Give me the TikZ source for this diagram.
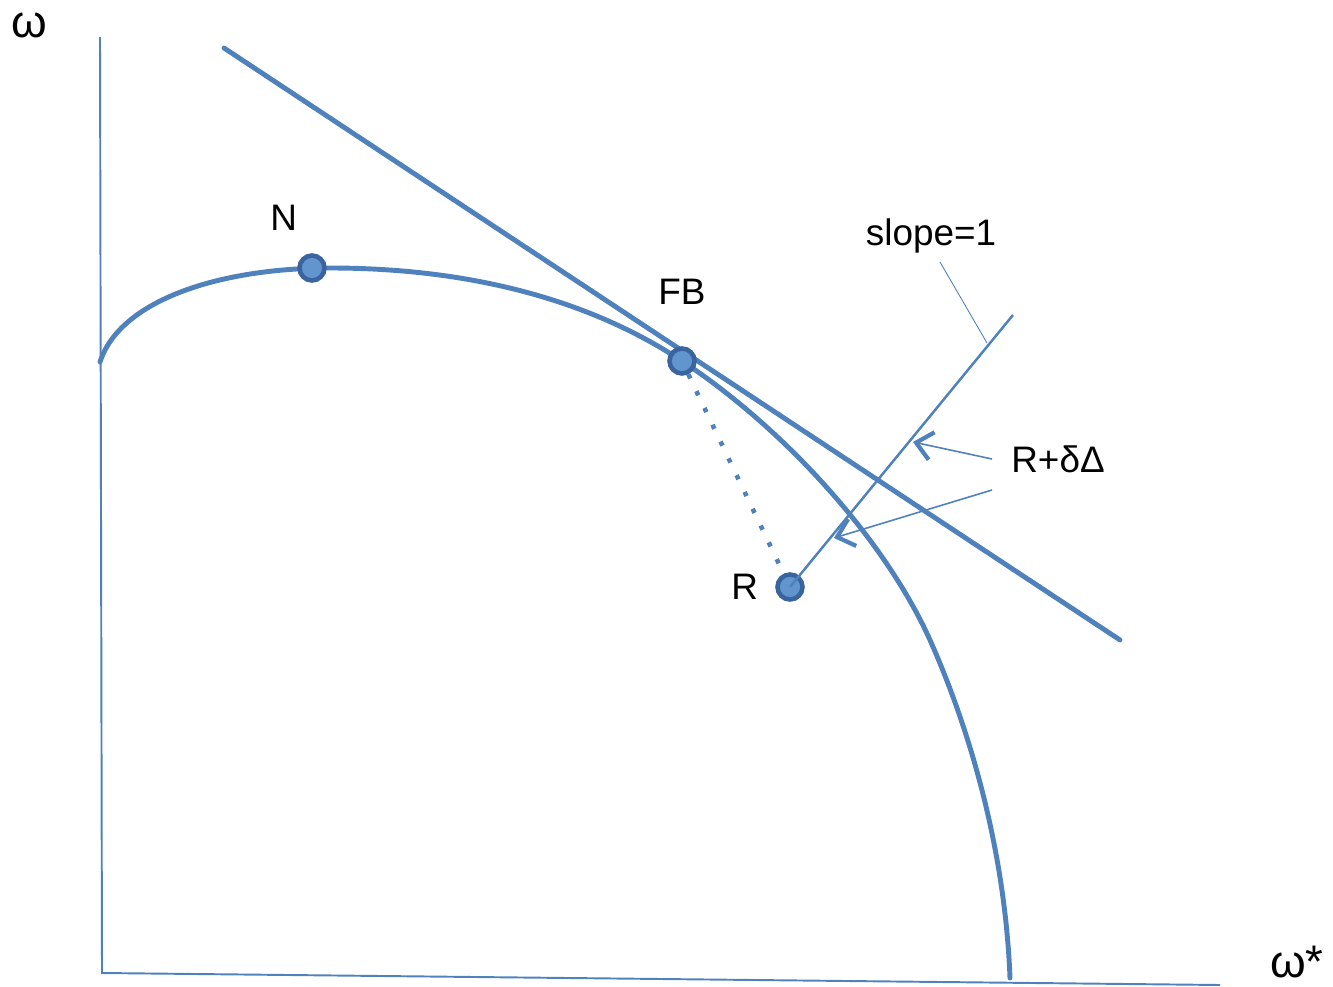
\documentclass[tikz,border=0pt]{standalone}
\usepackage{fontspec}
\setmainfont{Liberation Sans}
\usetikzlibrary{arrows.meta,positioning}
\definecolor{lnblue}{RGB}{79,129,189}
\definecolor{dotfill}{RGB}{98,148,206}
\definecolor{dotedge}{RGB}{58,100,158}

\begin{document}
\begin{tikzpicture}[
  x=0.02cm, y=-0.02cm,
  node distance=0.3cm,
  axis/.style={draw=lnblue, line width=1.1pt},
  frontier/.style={draw=lnblue, line width=2.8pt, line cap=round},
  thin/.style={draw=lnblue, line width=1.4pt},
  leader/.style={draw=lnblue, line width=0.5pt},
  pt/.style={circle, fill=dotfill, draw=dotedge, line width=2.6pt, minimum size=0.5cm, inner sep=0pt},
  lbl/.style={font=\fontsize{21}{25}\selectfont, inner sep=1pt},
  biglbl/.style={font=\fontsize{26}{28}\selectfont, inner sep=0pt},
  arr/.style={draw=lnblue, line width=0.9pt, -{Straight Barb[length=9pt, width=16pt, line width=2.4pt]}}
]
\useasboundingbox (0,0) rectangle (1333,987);

% axes
\coordinate (o) at (102,973);
\coordinate (ytop) at (100,37);
\coordinate (xend) at (1220,985);
\draw[axis] (ytop) -- (o) -- (xend);
\node[biglbl] (wlab) at (29,25) {ω};
\node[biglbl] (wslab) at (1297,962) {ω*};

% tangent line
\coordinate (t1) at (224,48);
\coordinate (t2) at (1120,640);
\draw[frontier] (t1) -- (t2);

% frontier
\draw[frontier] (100,362) .. controls (120,300) and (220,268) .. (330,268)
  .. controls (470,268) and (590,300) .. (682,361)
  .. controls (785,429) and (885,540) .. (930,640)
  .. controls (970,730) and (1005,850) .. (1010,978);

% points
\node[pt] (N) at (312,268) {};
\node[pt] (FB) at (682,361) {};
\node[pt] (R) at (790,587) {};
\node[lbl, above left=0.5cm and 0.05cm of N] {N};
\node[lbl, above=0.8cm of FB] {FB};
\node[lbl, left=0.3cm of R] {R};

% dotted path FB to R
\draw[draw=lnblue, line width=2.6pt, dash pattern=on 2.6pt off 8pt] (FB) -- (R);

% slope=1 line
\coordinate (s1) at (1013,315);
\draw[thin] (R.center) -- (s1);
\node[lbl] (slope) at (931,236) {slope=1};
\coordinate (sl) at (987,343);
\draw[leader] (940,262) -- (sl);

% R + delta Delta
\node[lbl] (rdd) at (1058,459) {R+δΔ};
\coordinate (a1) at (992,459);
\coordinate (a2) at (992,490);
\coordinate (h1) at (913,442);
\coordinate (h2) at (834,538);
\draw[arr] (a1) -- (h1);
\draw[arr] (a2) -- (h2);
\end{tikzpicture}
\end{document}
